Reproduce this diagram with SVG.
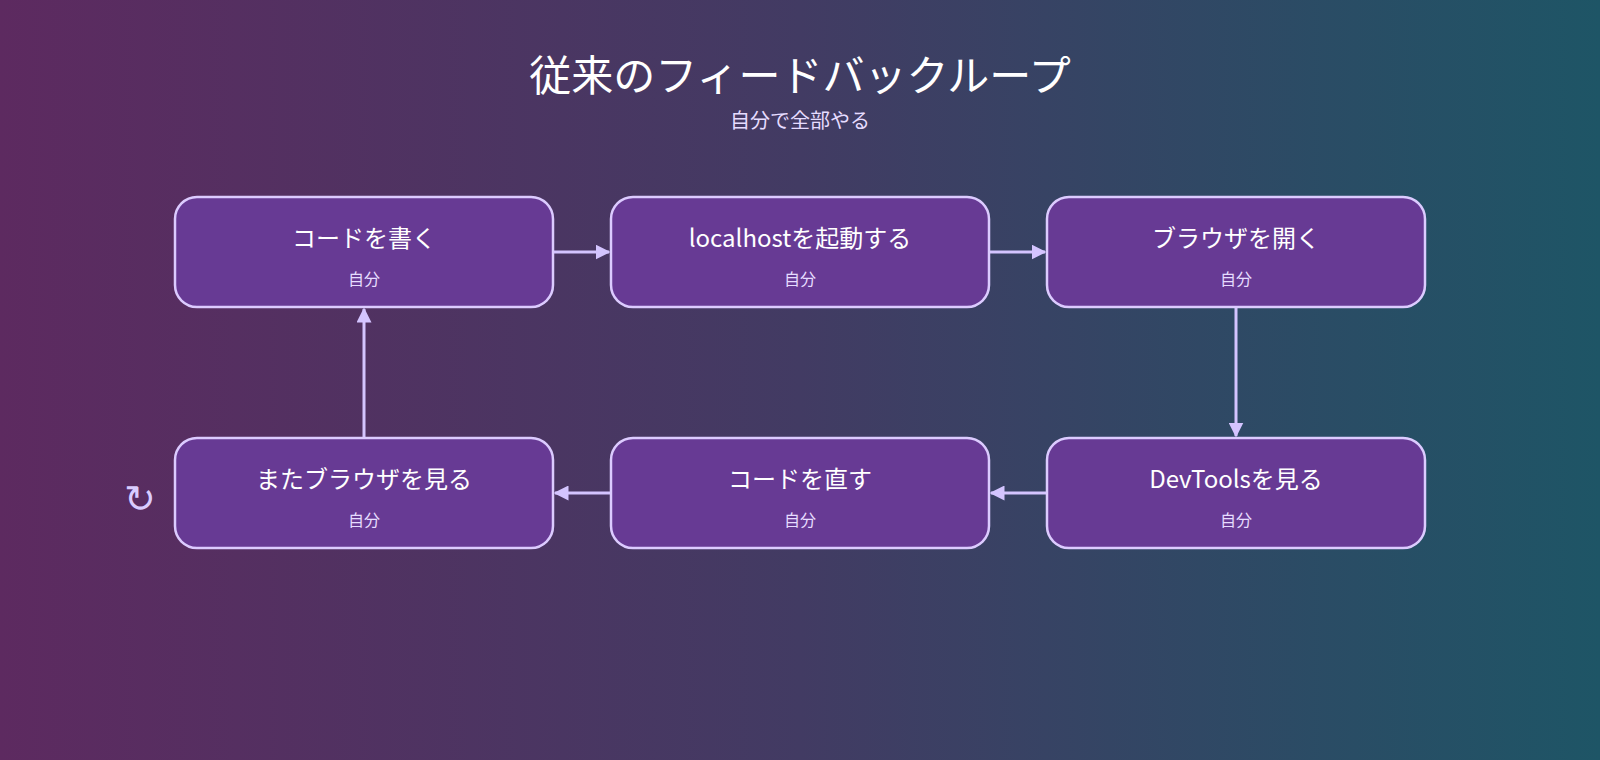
<svg xmlns="http://www.w3.org/2000/svg" width="1600" height="760" viewBox="0 0 1600 760">
<style>
text{font-family:"Noto Sans CJK JP","Noto Sans",sans-serif;fill:#fff;text-anchor:middle}
.box{fill:#673a94;stroke:#dccbff;stroke-width:2.5}
.t{font-size:24px}
.s{font-size:16px;fill:#e6dcff}
.c{stroke:#d4c4ff;stroke-width:3;fill:none;marker-end:url(#a)}
</style>
<defs>
<linearGradient id="bg" x1="0" y1="0" x2="1" y2="0">
<stop offset="0" stop-color="#5d2a60"/><stop offset="0.5" stop-color="#423b63"/><stop offset="1" stop-color="#1e5566"/>
</linearGradient>
<marker id="a" viewBox="0 0 10 10" refX="9" refY="5" markerWidth="5" markerHeight="5" orient="auto"><path d="M0,0L10,5L0,10z" fill="#d4c4ff"/></marker>
</defs>
<rect width="1600" height="760" fill="url(#bg)"/>
<text x="800" y="91" style="font-size:42px">従来のフィードバックループ</text>
<text x="800" y="128" style="font-size:20px;fill:#e6dcff">自分で全部やる</text>
<g id="connectors">
<path class="c" d="M553,252H609"/>
<path class="c" d="M989,252H1045"/>
<path class="c" d="M1236,307V436"/>
<path class="c" d="M1047,493H991"/>
<path class="c" d="M611,493H555"/>
<path class="c" d="M364,438V309"/>
</g>
<g id="n1"><rect class="box" x="175" y="197" width="378" height="110" rx="22"/><text class="t" x="364" y="247">コードを書く</text><text class="s" x="364" y="285">自分</text></g>
<g id="n2"><rect class="box" x="611" y="197" width="378" height="110" rx="22"/><text class="t" x="800" y="247">localhostを起動する</text><text class="s" x="800" y="285">自分</text></g>
<g id="n3"><rect class="box" x="1047" y="197" width="378" height="110" rx="22"/><text class="t" x="1236" y="247">ブラウザを開く</text><text class="s" x="1236" y="285">自分</text></g>
<g id="n4"><rect class="box" x="1047" y="438" width="378" height="110" rx="22"/><text class="t" x="1236" y="488">DevToolsを見る</text><text class="s" x="1236" y="526">自分</text></g>
<g id="n5"><rect class="box" x="611" y="438" width="378" height="110" rx="22"/><text class="t" x="800" y="488">コードを直す</text><text class="s" x="800" y="526">自分</text></g>
<g id="n6"><rect class="box" x="175" y="438" width="378" height="110" rx="22"/><text class="t" x="364" y="488">またブラウザを見る</text><text class="s" x="364" y="526">自分</text></g>
<text x="140" y="512" style="font-size:38px;fill:#d9ccff">↻</text>
</svg>
